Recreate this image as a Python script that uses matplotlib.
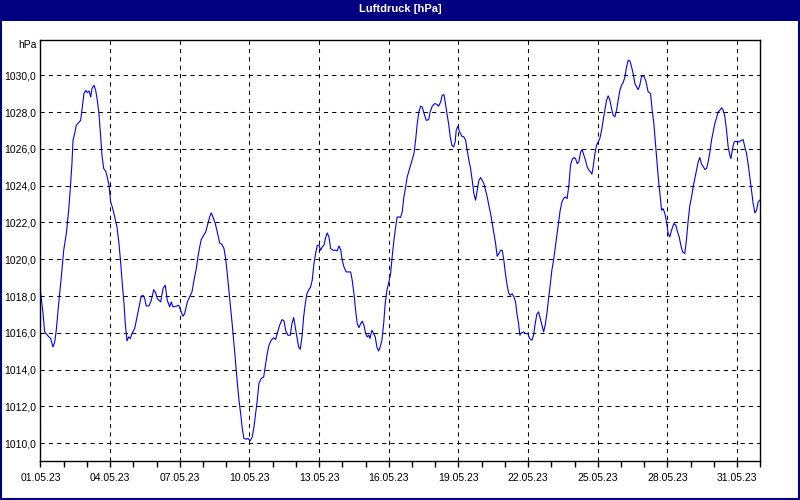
import datetime as dt
import matplotlib
matplotlib.use("Agg")
import matplotlib.pyplot as plt
import matplotlib.dates as mdates
from matplotlib.patches import Rectangle
from matplotlib.ticker import FuncFormatter, MultipleLocator, FixedLocator

# Messwerte: Stunden seit 01.05.23 00:00 und Luftdruck in hPa
stunden = [
    0, 2.7, 4.4, 7.9, 10.6, 13.0, 14.8, 16.4, 18.9, 21.6, 24.1, 26.8, 29.2, 30.9, 32.6, 33.7,
    35.4, 37.1, 39.6, 41.6, 43.3, 45.0, 46.8, 48.5, 50.2, 52.0, 53.3, 55.4, 57.1, 58.8, 60.5,
    62.3, 63.6, 65.4, 67.5, 69.1, 70.9, 72.6, 74.3, 76.8, 79.1, 81.2, 83.0, 84.6, 86.4, 87.7,
    89.5, 91.2, 92.9, 94.6, 97.4, 99.8, 101.9, 104.2, 106.0, 107.8, 109.4, 112.2, 114.6, 117.1,
    119.1, 120.8, 124.3, 126.7, 129.0, 131.1, 133.6, 135.2, 137.0, 140.4, 142.9, 144.9, 147.3,
    149.1, 151.8, 154.2, 156.6, 158.7, 161.1, 162.8, 164.6, 166.2, 168.7, 170.8, 173.1, 174.9,
    176.6, 178.3, 180.7, 182.8, 185.2, 187.6, 189.7, 191.4, 193.1, 194.8, 196.6, 198.3, 200.0,
    201.8, 203.4, 205.2, 206.9, 208.6, 210.3, 212.7, 214.5, 216.8, 218.9, 220.7, 222.4, 224.1,
    225.8, 228.2, 230.7, 232.3, 234.4, 236.2, 238.5, 241.0, 243.1, 244.7, 247.2, 249.6, 251.7,
    253.4, 255.8, 258.2, 259.9, 261.7, 263.3, 265.1, 266.8, 268.5, 270.3, 272.0, 273.7, 275.4,
    277.5, 279.2, 280.9, 282.7, 284.4, 286.1, 287.8, 289.6, 291.2, 293.0, 294.7, 296.4, 298.2,
    299.9, 302.3, 304.7, 306.7, 308.5, 310.2, 311.9, 313.7, 316.0, 318.5, 320.6, 322.2, 324.0,
    325.7, 327.4, 329.1, 330.9, 332.6, 334.3, 336.1, 337.7, 339.5, 340.5, 342.6, 344.3, 346.0,
    347.7, 349.5, 351.1, 352.9, 354.7, 356.3, 358.1, 360.1, 361.9, 363.5, 365.3, 367.1, 368.7,
    370.5, 372.2, 373.9, 375.6, 377.4, 379.0, 381.5, 383.9, 386.0, 387.7, 389.4, 391.1, 392.9,
    394.5, 396.3, 398.7, 401.2, 402.8, 404.9, 407.4, 409.7, 411.5, 413.6, 415.2, 417.0, 418.3,
    420.1, 421.8, 423.5, 425.2, 427.0, 428.6, 429.7, 431.4, 433.2, 435.6, 437.6, 439.4, 441.0,
    442.8, 444.5, 446.2, 447.9, 449.7, 451.4, 453.1, 454.9, 456.5, 458.3, 460.0, 461.7, 463.4,
    465.2, 466.9, 468.6, 470.4, 472.0, 473.8, 475.5, 477.2, 478.9, 480.3, 482.0, 483.8, 485.4,
    487.5, 489.3, 491.0, 492.4, 494.1, 495.5, 496.8, 499.3, 501.4, 503.7, 505.5, 507.9, 509.6,
    511.3, 513.0, 514.8, 516.5, 518.2, 520.0, 521.6, 523.4, 525.1, 526.8, 528.5, 530.3, 531.9,
    533.7, 535.5, 537.1, 538.9, 540.6, 542.3, 544.3, 546.1, 547.8, 549.5, 551.3, 553.0, 554.7,
    556.4, 558.2, 559.8, 561.6, 563.3, 565.0, 566.8, 568.5, 569.9, 571.2, 573.0, 574.7, 576.4,
    578.1, 579.9, 581.5, 583.3, 585.0, 586.7, 588.5, 590.2, 591.9, 593.6, 595.4, 597.0, 598.8,
    600.5, 602.2, 604.0, 605.7, 607.4, 609.1, 610.9, 612.5, 614.3, 616.1, 617.7, 619.4, 621.2,
    623.6, 625.6, 628.0, 630.5, 632.2, 633.9, 635.3, 636.7, 638.4, 640.1, 641.9, 643.5, 645.3,
    647.0, 648.7, 650.4, 652.2, 654.6, 656.6, 658.4, 660.1, 661.8, 663.6, 665.9, 667.7, 669.4,
    671.1, 672.9, 674.5, 676.3, 678.0, 679.7, 681.4, 683.2, 684.8, 686.6, 688.4, 690.0, 691.8,
    693.5, 695.2, 696.9, 698.7, 700.4, 702.1, 703.9, 705.5, 707.3, 709.0, 710.7, 712.4, 713.5,
    715.2, 716.9, 718.6, 720.4, 722.0, 724.5, 726.2, 727.9, 729.7, 731.3, 733.1, 734.8, 736.5,
    738.3, 740.0, 741.7, 743.4,
]
luftdruck = [
    1018.28, 1017.05, 1016.05, 1015.83, 1015.69, 1015.23, 1015.5, 1016.14, 1017.59, 1019.04,
    1020.49, 1021.4, 1022.66, 1023.84, 1025.2, 1026.47, 1026.83, 1027.28, 1027.43, 1027.55,
    1028.28, 1029.0, 1029.18, 1029.06, 1029.15, 1028.82, 1029.28, 1029.46, 1029.18, 1028.64,
    1027.92, 1026.65, 1025.65, 1024.93, 1024.78, 1024.47, 1024.02, 1023.11, 1022.84, 1022.3,
    1021.76, 1020.85, 1019.77, 1018.68, 1017.59, 1016.5, 1015.56, 1015.78, 1015.69, 1015.96,
    1016.23, 1016.86, 1017.41, 1017.99, 1018.04, 1017.86, 1017.46, 1017.46, 1017.77, 1018.35,
    1018.17, 1017.86, 1017.68, 1018.41, 1018.59, 1017.77, 1017.41, 1017.68, 1017.41, 1017.45,
    1017.5, 1017.23, 1016.9, 1017.05, 1017.68, 1017.95, 1018.22, 1018.86, 1019.49, 1020.13,
    1020.67, 1021.07, 1021.3, 1021.48, 1021.94, 1022.3, 1022.52, 1022.3, 1021.94, 1021.48,
    1020.89, 1020.8, 1020.58, 1020.04, 1019.22, 1018.32, 1017.41, 1016.41, 1015.42, 1014.33,
    1013.33, 1012.34, 1011.62, 1010.8, 1010.26, 1010.22, 1010.26, 1010.13, 1010.34, 1010.89,
    1011.62, 1012.34, 1013.25, 1013.52, 1013.6, 1014.15, 1014.87, 1015.33, 1015.6, 1015.73,
    1015.64, 1015.96, 1016.41, 1016.72, 1016.65, 1016.14, 1015.87, 1015.87, 1016.5, 1016.83,
    1016.32, 1015.78, 1015.23, 1015.11, 1015.78, 1016.86, 1017.59, 1018.13, 1018.35, 1018.49,
    1018.86, 1019.77, 1020.31, 1020.76, 1020.76, 1020.49, 1020.67, 1020.76, 1021.18, 1021.43,
    1021.21, 1020.58, 1020.49, 1020.49, 1020.45, 1020.72, 1020.53, 1019.95, 1019.58, 1019.31,
    1019.31, 1019.31, 1018.86, 1018.13, 1017.23, 1016.5, 1016.28, 1016.5, 1016.63, 1016.41,
    1015.96, 1015.78, 1015.87, 1015.69, 1016.14, 1015.96, 1015.78, 1015.23, 1015.01, 1015.23,
    1015.6, 1016.5, 1017.59, 1018.32, 1018.77, 1019.22, 1020.13, 1021.03, 1021.76, 1022.3,
    1022.3, 1022.27, 1022.57, 1023.39, 1023.93, 1024.47, 1024.93, 1025.38, 1025.74, 1026.47,
    1027.37, 1028.01, 1028.32, 1028.28, 1027.95, 1027.55, 1027.59, 1028.01, 1028.32, 1028.46,
    1028.42, 1028.32, 1028.55, 1028.91, 1028.95, 1028.55, 1027.92, 1027.37, 1026.65, 1026.2,
    1026.1, 1026.38, 1027.01, 1027.23, 1026.92, 1026.68, 1026.65, 1026.47, 1025.92, 1025.38,
    1024.93, 1024.29, 1023.57, 1023.21, 1023.75, 1024.29, 1024.44, 1024.29, 1024.11, 1023.75,
    1023.39, 1022.93, 1022.48, 1021.94, 1021.4, 1020.85, 1020.16, 1020.31, 1020.49, 1020.49,
    1019.95, 1019.31, 1018.68, 1018.17, 1018.04, 1018.13, 1017.95, 1017.68, 1017.05, 1016.5,
    1015.87, 1015.99, 1016.05, 1015.96, 1015.96, 1015.69, 1015.6, 1015.87, 1016.5, 1017.01,
    1017.14, 1016.78, 1016.41, 1016.05, 1016.41, 1017.05, 1017.86, 1018.59, 1019.4, 1019.95,
    1020.58, 1021.3, 1022.03, 1022.66, 1023.11, 1023.3, 1023.39, 1023.3, 1024.02, 1025.11,
    1025.42, 1025.53, 1025.47, 1025.2, 1025.29, 1025.83, 1025.96, 1025.65, 1025.38, 1025.02,
    1024.84, 1024.75, 1024.62, 1025.02, 1025.74, 1026.2, 1026.38, 1026.56, 1027.01, 1027.55,
    1028.1, 1028.64, 1028.88, 1028.64, 1028.19, 1027.83, 1027.74, 1028.1, 1028.64, 1029.18,
    1029.46, 1029.6, 1029.91, 1030.45, 1030.82, 1030.78, 1030.45, 1030.09, 1029.55, 1029.36,
    1029.22, 1029.46, 1029.95, 1029.95, 1029.7, 1029.1, 1029.0, 1028.1, 1027.37, 1026.47,
    1025.56, 1024.47, 1023.57, 1022.66, 1022.75, 1022.48, 1022.03, 1021.4, 1021.21, 1021.58,
    1021.94, 1021.85, 1021.48, 1021.21, 1020.76, 1020.4, 1020.31, 1021.12, 1022.12, 1022.93,
    1023.39, 1023.93, 1024.39, 1024.84, 1025.29, 1025.53, 1025.16, 1025.05, 1024.88, 1024.93,
    1025.29, 1025.83, 1026.47, 1026.92, 1027.37, 1027.7, 1028.0, 1028.1, 1028.23, 1028.1,
    1027.74, 1027.01, 1026.1, 1025.65, 1025.47, 1026.01, 1026.38, 1026.41, 1026.38, 1026.38,
    1026.47, 1026.5, 1026.1, 1025.74, 1025.2, 1024.47, 1023.75, 1023.03, 1022.52, 1022.66,
    1023.11, 1023.21,
]

titel = "Luftdruck [hPa]"
einheit = "hPa"
start = dt.datetime(2023, 5, 1)
ende = dt.datetime(2023, 6, 1)

zeiten = [start + dt.timedelta(hours=h) for h in stunden]
# beschriftete Tage: jeder dritte Tag im Mai
haupt_tage = [mdates.date2num(start + dt.timedelta(days=d)) for d in range(0, 31, 3)]

plt.rcParams['font.family'] = ['Liberation Sans', 'DejaVu Sans']

fig = plt.figure(figsize=(8, 5), dpi=100, facecolor="white")
ax = fig.add_axes([0.0505, 0.0786, 0.9, 0.8408])

ax.plot(zeiten, luftdruck, color="#0000ff", linewidth=0.8)

ax.set_xlim(start, ende)
ax.set_ylim(1009.05, 1031.9)

# Achsen und Gitter
ax.xaxis.set_major_locator(FixedLocator(haupt_tage))
ax.xaxis.set_minor_locator(mdates.DayLocator())
ax.xaxis.set_major_formatter(mdates.DateFormatter("%d.%m.%y"))
ax.yaxis.set_major_locator(MultipleLocator(2))
ax.yaxis.set_major_formatter(FuncFormatter(lambda v, p: f"{v:.1f}".replace(".", ",")))

ax.tick_params(axis="x", which="both", direction="out", length=4, width=1,
               labelsize=7.5, pad=5, color="black")
ax.tick_params(axis="y", length=0, labelsize=7.5, pad=3)
ax.grid(True, which="major", color="black", linestyle=(0, (4, 4)), linewidth=0.75)
for sp in ax.spines.values():
    sp.set_color("black")
    sp.set_linewidth(1)

# Titelleiste und Rahmen wie im Fenster
fig.patches.append(Rectangle((0, 0.959), 1, 0.041, transform=fig.transFigure,
                             facecolor="#000080", edgecolor="none", zorder=0))
fig.patches.append(Rectangle((0.0015, 0.002), 0.997, 0.996, transform=fig.transFigure,
                             facecolor="none", edgecolor="#000080", linewidth=1.5, zorder=5))
fig.text(0.5, 0.981, titel, color="white", fontsize=8, fontweight="bold",
         ha="center", va="center")
fig.text(0.046, 0.91, einheit, fontsize=7.5, ha="right", va="center")

fig.savefig("out.png", dpi=100, facecolor=fig.get_facecolor())
